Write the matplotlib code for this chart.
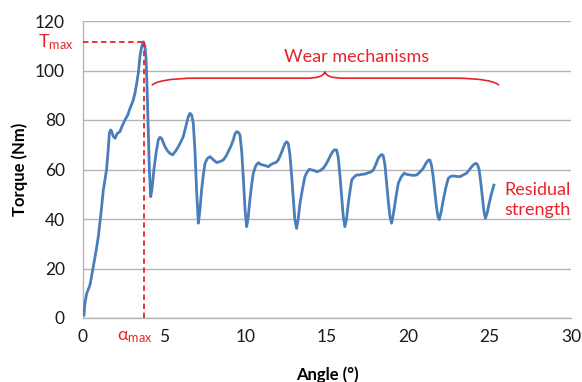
import matplotlib
matplotlib.use('Agg')
import matplotlib.pyplot as plt
from matplotlib.path import Path
from matplotlib.patches import PathPatch

plt.rcParams['font.family'] = ['Lato', 'DejaVu Sans']
plt.rcParams['mathtext.default'] = 'regular'

# torque curve (angle in degrees, torque in Nm)
angle = [0.06, 0.12, 0.23, 0.39, 0.45, 0.63, 0.80, 0.94, 1.10, 1.25, 1.45, 1.55, 1.62, 1.70,
         1.76, 1.85, 1.97, 2.10, 2.27, 2.40, 2.58, 2.75, 2.89, 3.09, 3.20, 3.30, 3.40, 3.50,
         3.60, 3.71, 3.80, 3.87, 3.94, 4.01, 4.08, 4.16, 4.24, 4.36, 4.50, 4.63, 4.73, 4.83,
         4.93, 5.04, 5.20, 5.35, 5.51, 5.70, 5.86, 6.00, 6.16, 6.27, 6.37, 6.48, 6.58, 6.68,
         6.78, 6.88, 6.98, 7.09, 7.18, 7.29, 7.40, 7.50, 7.65, 7.81, 8.00, 8.22, 8.42, 8.62,
         8.80, 8.93, 9.10, 9.24, 9.35, 9.45, 9.55, 9.65, 9.76, 9.86, 9.96, 10.06, 10.16, 10.26,
         10.37, 10.47, 10.62, 10.78, 10.93, 11.08, 11.24, 11.39, 11.55, 11.70, 11.85, 12.00,
         12.15, 12.31, 12.42, 12.52, 12.62, 12.72, 12.82, 12.92, 13.02, 13.13, 13.23, 13.34,
         13.49, 13.64, 13.78, 13.91, 14.08, 14.26, 14.36, 14.57, 14.77, 14.93, 15.08, 15.24,
         15.39, 15.49, 15.59, 15.69, 15.79, 15.89, 16.00, 16.10, 16.20, 16.31, 16.42, 16.52,
         16.67, 16.82, 16.98, 17.13, 17.34, 17.54, 17.70, 17.85, 18.00, 18.15, 18.26, 18.36,
         18.46, 18.56, 18.66, 18.77, 18.87, 18.97, 19.08, 19.18, 19.28, 19.38, 19.56, 19.75,
         19.92, 20.10, 20.30, 20.51, 20.72, 20.92, 21.08, 21.23, 21.33, 21.43, 21.53, 21.63,
         21.73, 21.82, 21.90, 22.02, 22.15, 22.30, 22.45, 22.60, 22.76, 22.96, 23.17, 23.38,
         23.58, 23.74, 23.89, 24.02, 24.15, 24.25, 24.35, 24.45, 24.55, 24.65, 24.74, 24.85,
         24.97, 25.10, 25.26]
torque = [1.2, 6, 10, 12.6, 14, 20.7, 27, 32.8, 42, 51.7, 60, 68, 74.6, 76,
          75.5, 73.5, 72.6, 74.5, 75.3, 77.5, 80, 82, 84.7, 88, 91, 94.8, 99, 105.6,
          109.5, 111.6, 110, 105.6, 93, 76, 60, 49, 52, 60, 67, 72, 73, 72.6,
          71, 69.2, 67.5, 66.5, 65.9, 67.5, 69.2, 71, 73.2, 76, 78.7, 81.5, 82.7, 82,
          78.7, 68, 52, 38.3, 43, 51.7, 58, 62.5, 64.5, 65.2, 64, 62.8, 63.2, 63.8,
          65.5, 67.2, 69.5, 72, 74.5, 75.3, 75, 74, 67, 56, 44, 36.9, 41, 47.7,
          54, 58.5, 61.5, 62.8, 62, 61.8, 61.5, 61.1, 62, 62.5, 62.8, 63.8,
          66, 68.6, 70.5, 71.2, 70.5, 66, 58, 49, 40, 36.2, 40, 46.3,
          52, 57.1, 59, 60.1, 59.8, 59.5, 59.1, 59.5, 60.5, 62, 63.8, 66,
          67.6, 68, 67.9, 65, 58, 50, 41, 36.9, 40, 46.3, 51.5, 55.8,
          57, 57.8, 57.8, 58, 58.2, 58.7, 59, 59.8, 62, 64.5, 65.5, 66.1,
          65.5, 62, 55, 47, 41, 38.3, 42, 46.3, 50.5, 54.4, 57, 58.5,
          58, 57.8, 57.6, 57.8, 59, 60.5, 62.5, 63.8, 63.8, 61.5, 57, 51,
          45, 41, 39.8, 43, 47.7, 52.5, 56.4, 57.2, 57.4, 57.2, 57.1, 57.8,
          58.5, 59.8, 61.1, 62, 62.5, 62, 60, 55, 49, 43, 40.3, 42.5,
          46.3, 50, 53.7]

x_ticks = [0, 5, 10, 15, 20, 25, 30]
y_ticks = [0, 20, 40, 60, 80, 100, 120]

# peak values marked by the dashed lines
t_max = 111.6
alpha_max = 3.73

# brace over the wear region
brace_x0, brace_x1, brace_mid = 4.24, 25.57, 14.87
brace_y, brace_tip, brace_end = 96.9, 99.5, 94.0

red = '#E8232A'
blue = '#4A7EBB'
grid_c = '#B4B4B4'

fig = plt.figure(figsize=(5.82, 3.82), dpi=100)
ax = fig.add_axes([83 / 582, 1 - 318 / 382, (571 - 83) / 582, (318 - 21) / 382])

ax.plot(angle, torque, color=blue, linewidth=2.0, solid_joinstyle='round', zorder=3)

ax.set_xlim(0, 30)
ax.set_ylim(0, 120)
ax.set_xticks(x_ticks)
ax.set_yticks(y_ticks)
ax.tick_params(length=0, labelsize=12.5, colors='#1a1a1a')
ax.tick_params(axis='y', pad=13)
ax.tick_params(axis='x', pad=8)
ax.grid(axis='y', color=grid_c, linewidth=1.0, zorder=0)
for s in ['top', 'right']:
    ax.spines[s].set_visible(False)
for s in ['left', 'bottom']:
    ax.spines[s].set_color(grid_c)
    ax.spines[s].set_linewidth(1.0)

ax.set_xlabel('Angle (°)', fontsize=12, fontweight='bold', labelpad=15)
ax.set_ylabel('Torque (Nm)', fontsize=12, fontweight='bold', labelpad=5)

# dashed guides to the peak
ax.plot([0, alpha_max], [t_max, t_max], color=red, linestyle=(0, (3, 2)), linewidth=1.3, zorder=4)
ax.plot([alpha_max, alpha_max], [0, t_max], color=red, linestyle=(0, (3, 2)), linewidth=1.3, zorder=4)

ax.text(-0.6, 111.5, r'T$_{max}$', color=red, fontsize=13, ha='right', va='center', clip_on=False)
ax.text(4.25, -7.8, r'$\alpha_{max}$', color=red, fontsize=13, ha='right', va='center', clip_on=False)

# curly brace
verts = [
    (brace_x0, brace_end),
    (brace_x0 + 0.15, brace_y - 1.5), (brace_x0 + 1.0, brace_y), (brace_x0 + 2.8, brace_y),
    (brace_mid - 1.2, brace_y),
    (brace_mid - 0.4, brace_y), (brace_mid - 0.1, brace_y + 0.8), (brace_mid, brace_tip),
    (brace_mid + 0.1, brace_y + 0.8), (brace_mid + 0.4, brace_y), (brace_mid + 1.2, brace_y),
    (brace_x1 - 2.8, brace_y),
    (brace_x1 - 1.0, brace_y), (brace_x1 - 0.15, brace_y - 1.5), (brace_x1, brace_end),
]
codes = [Path.MOVETO, Path.CURVE4, Path.CURVE4, Path.CURVE4, Path.LINETO,
         Path.CURVE4, Path.CURVE4, Path.CURVE4, Path.CURVE4, Path.CURVE4, Path.CURVE4,
         Path.LINETO, Path.CURVE4, Path.CURVE4, Path.CURVE4]
ax.add_patch(PathPatch(Path(verts, codes), facecolor='none', edgecolor=red, linewidth=1.2, zorder=4))

ax.text(16.8, 105.5, 'Wear mechanisms', color=red, fontsize=13, ha='center', va='center')
ax.text(25.9, 47.5, 'Residual\nstrength', color=red, fontsize=13, ha='left', va='center',
        linespacing=1.3, clip_on=False)

plt.savefig('out.png', dpi=100)
plt.close()
